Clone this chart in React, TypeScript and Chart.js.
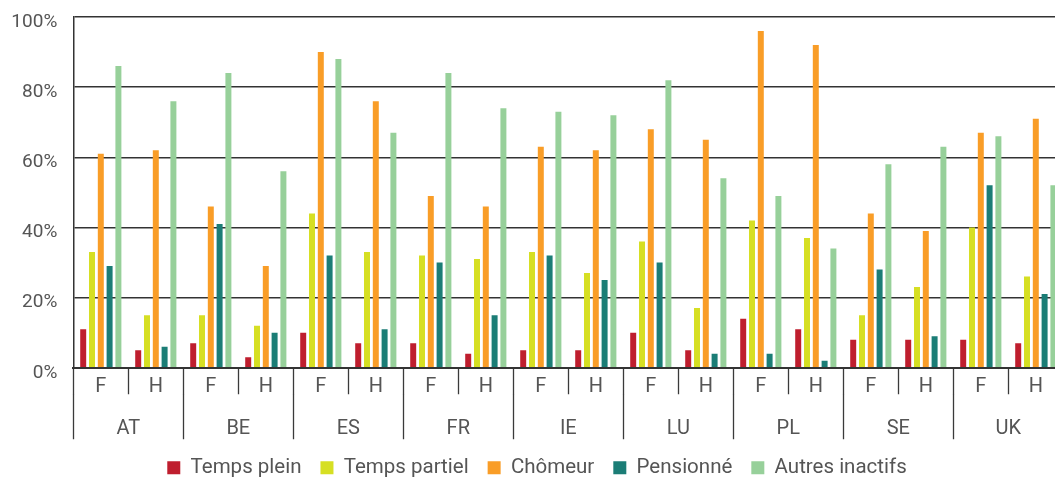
import React, { useEffect, useRef } from "react";
import { Chart, registerables } from "chart.js";

Chart.register(...registerables);

const countries = ["AT", "BE", "ES", "FR", "IE", "LU", "PL", "SE", "UK"];
const genders = ["F", "H"];
const yTicks = [0, 20, 40, 60, 80, 100];

const seriesNames = ["Temps plein", "Temps partiel", "Chômeur", "Pensionné", "Autres inactifs"];
const seriesColors = ["#BF1E2E", "#D6DF23", "#F99D27", "#1B7D76", "#97D09A"];

const tempsPlein = [11, 5, 7, 3, 10, 7, 7, 4, 5, 5, 10, 5, 14, 11, 8, 8, 8, 7];
const tempsPartiel = [33, 15, 15, 12, 44, 33, 32, 31, 33, 27, 36, 17, 42, 37, 15, 23, 40, 26];
const chomeur = [61, 62, 46, 29, 90, 76, 49, 46, 63, 62, 68, 65, 96, 92, 44, 39, 67, 71];
const pensionne = [29, 6, 41, 10, 32, 11, 30, 15, 32, 25, 30, 4, 4, 2, 28, 9, 52, 21];
const autresInactifs = [86, 76, 84, 56, 88, 67, 84, 74, 73, 72, 82, 54, 49, 34, 58, 63, 66, 52];

const seriesValues = [tempsPlein, tempsPartiel, chomeur, pensionne, autresInactifs];

const FONT = "Roboto, 'DejaVu Sans', sans-serif";
const TEXT = "#555555";
const CANVAS_W = 1074;
const CANVAS_H = 488;

export default function App() {
  const ref = useRef<HTMLCanvasElement | null>(null);

  useEffect(() => {
    if (!ref.current) return;
    const labels: string[] = [];
    countries.forEach(() => genders.forEach((g) => labels.push(g)));

    const chart = new Chart(ref.current, {
      type: "bar",
      data: {
        labels,
        datasets: seriesNames.map((name, i) => ({
          label: name,
          data: seriesValues[i],
          backgroundColor: seriesColors[i],
          borderWidth: 0,
          categoryPercentage: 0.8,
          barPercentage: 0.68,
        })),
      },
      options: {
        responsive: false,
        animation: false,
        layout: { padding: { top: 17, left: 0, right: 0, bottom: 0 } },
        plugins: {
          tooltip: { enabled: false },
          legend: {
            position: "bottom",
            labels: {
              boxWidth: 13,
              boxHeight: 13,
              padding: 19,
              color: TEXT,
              font: { family: FONT, size: 20.5 },
            },
          },
        },
        scales: {
          x: {
            type: "category",
            position: "bottom",
            offset: true,
            grid: {
              offset: true,
              drawOnChartArea: false,
              tickLength: 26.5,
              tickColor: "#3a3a3a",
              tickWidth: 1.3,
            },
            border: { display: true, color: "#333", width: 2 },
            ticks: {
              padding: -19.7,
              maxRotation: 0,
              autoSkip: false,
              color: TEXT,
              font: { family: FONT, size: 20 },
            },
            afterFit: (s: any) => {
              s.height = 26.5;
            },
          },
          x2: {
            type: "category",
            position: "bottom",
            labels: countries,
            offset: true,
            grid: {
              offset: true,
              drawOnChartArea: false,
              tickLength: 45,
              tickColor: "#3a3a3a",
              tickWidth: 1.3,
            },
            border: { display: false },
            ticks: {
              padding: -22.2,
              maxRotation: 0,
              autoSkip: false,
              color: TEXT,
              font: { family: FONT, size: 20 },
            },
            afterFit: (s: any) => {
              s.height = 44.25;
            },
          },
          y: {
            min: 0,
            max: 100,
            afterBuildTicks: (s: any) => {
              s.ticks = yTicks.map((v) => ({ value: v }));
            },
            grid: {
              color: "#333",
              lineWidth: 1.5,
              drawTicks: true,
              tickLength: 16,
              tickColor: "rgba(0,0,0,0)",
            },
            border: { display: true, color: "#333", width: 1.5 },
            ticks: {
              padding: 0,
              labelOffset: 5,
              color: TEXT,
              font: { family: FONT, size: 19 },
              callback: (v: any) => v + "%",
            },
            afterFit: (s: any) => {
              s.width = 73.3;
            },
          },
          yR: {
            type: "linear",
            position: "right",
            display: true,
            grid: { display: false },
            ticks: { display: false },
            border: { display: false },
            afterFit: (s: any) => {
              s.width = CANVAS_W - 1063.3;
            },
          },
        },
      },
    });
    return () => chart.destroy();
  }, []);

  return (
    <div
      style={{
        position: "fixed",
        left: 0,
        top: 0,
        width: 1055,
        height: 477,
        overflow: "hidden",
        background: "#fff",
      }}
    >
      <canvas ref={ref} width={CANVAS_W} height={CANVAS_H} style={{ display: "block" }} />
    </div>
  );
}
